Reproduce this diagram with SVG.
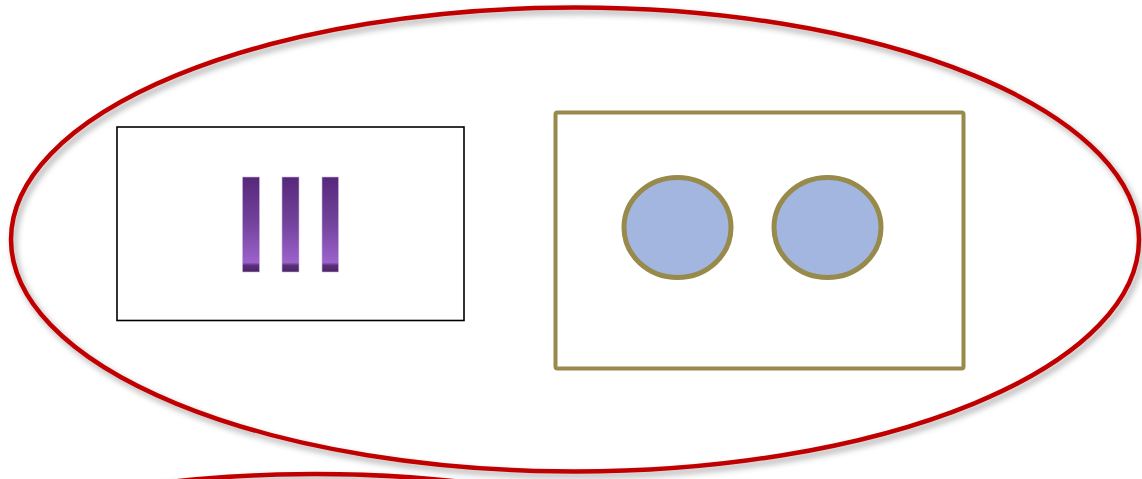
<svg xmlns="http://www.w3.org/2000/svg" width="1142" height="479" viewBox="0 0 1142 479">
<style>
.ring{fill:none;stroke:#C00000;stroke-width:4.5;filter:url(#sh)}
.bar{fill:url(#pg);stroke:#c8b8d8;stroke-width:0.6}
.disc{fill:#A2B6DF;stroke:#978A4A;stroke-width:5}
</style>
<defs>
<filter id="sh" x="-5%" y="-5%" width="110%" height="115%">
<feDropShadow dx="3" dy="4" stdDeviation="3" flood-color="#000" flood-opacity="0.35"/>
</filter>
<linearGradient id="pg" x1="0" y1="0" x2="0" y2="1">
<stop offset="0" stop-color="#56287A"/>
<stop offset="0.5" stop-color="#74449E"/>
<stop offset="0.9" stop-color="#9C62CC"/>
<stop offset="0.93" stop-color="#5a2f78"/>
<stop offset="1" stop-color="#4a2466"/>
</linearGradient>
</defs>
<rect width="1142" height="479" fill="#fff"/>
<g id="ellipse-main"><ellipse class="ring" cx="575" cy="239.5" rx="564" ry="232"/></g>
<g id="ellipse-lower"><ellipse class="ring" cx="315" cy="706" rx="564" ry="232"/></g>
<g id="box-bars">
<rect x="117" y="127" width="347" height="193.5" fill="#fff" stroke="#000" stroke-width="1.6"/>
<rect class="bar" x="242.5" y="177" width="17" height="95"/>
<rect class="bar" x="282" y="177" width="17" height="95"/>
<rect class="bar" x="322" y="177" width="16.5" height="95"/>
</g>
<g id="box-circles">
<rect x="555.5" y="112.5" width="408" height="256" rx="2" fill="#fff" stroke="#978A4A" stroke-width="4"/>
<ellipse class="disc" cx="677.5" cy="227.5" rx="53.5" ry="50"/>
<ellipse class="disc" cx="827.5" cy="227.5" rx="53.5" ry="50"/>
</g>
<g id="connectors"/>
</svg>
